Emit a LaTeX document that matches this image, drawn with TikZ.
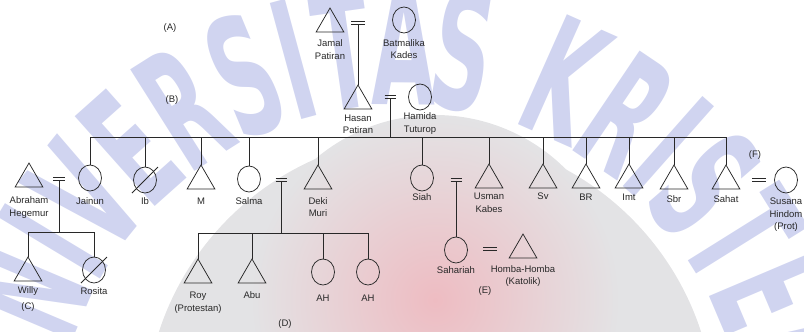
\documentclass[tikz,border=0pt]{standalone}
\usepackage{fontspec}
\setmainfont{Liberation Sans}
\newfontfamily\wmfont{DejaVu Sans}
\usepackage{tikz}
\usetikzlibrary{calc,positioning,shapes.geometric}

\definecolor{ink}{RGB}{40,40,40}
\definecolor{wmblue}{RGB}{208,212,240}
\definecolor{wmgray}{RGB}{227,227,229}
\definecolor{wmpink}{RGB}{238,188,194}

\tikzset{
  kin/.style={draw=ink,line width=0.75pt},
  male/.style={kin,regular polygon,regular polygon sides=3,minimum size=32pt,
    inner sep=0pt,outer sep=0pt,anchor=north},
  female/.style={kin,ellipse,minimum width=23pt,minimum height=26pt,
    inner sep=0pt,outer sep=0pt},
  who/.style={font=\fontsize{9.5}{12.5}\selectfont,text=ink,align=center,inner sep=0pt},
  wmletter/.style={font=\wmfont\bfseries\fontsize{165}{165}\selectfont,text=wmblue,inner sep=0pt}
}

\begin{document}
\begin{tikzpicture}[x=1pt,y=-1pt]
\useasboundingbox (0,0) rectangle (804,332);
% Watermark behind the chart: logo disc and lettering round it
\begin{scope}
  \clip (0,0) rectangle (804,332);
  \fill[wmgray] (430,420) circle (285);
  \shade[inner color=wmpink,outer color=wmgray] (435,300) circle (185);
  \begin{scope}[shift={(400,450)},yscale=-1]
    \foreach \ch/\a in {U/167.5,N/157,I/148.9,V/141.2,E/131.7,R/122.3,S/112.6,
                        I/105.2,T/98.1,A/89.5,S/81,K/66,R/56,I/48.5,S/41,
                        T/32,E/23,N/13}
      \node[wmletter,rotate=\a-90] (wm\a) at (\a:405) {\scalebox{0.5}[1]{\ch}};
  \end{scope}
\end{scope}

% People: (id/shape/x/y/label y/label)
\foreach \id/\kind/\x/\y/\ly/\lab in {%
  jamal/male/330/8/49.5/{Jamal\\Patiran},%
  batmalika/female/404/20/49/{Batmalika\\Kades},%
  hasan/male/358/85/124.5/{Hasan\\Patiran},%
  hamida/female/420/97/123.5/{Hamida\\Tuturop},%
  abraham/male/29/163/207.5/{Abraham\\Hegemur},%
  jainun/female/90/178/201/{Jainun},%
  ib/female/145/180/201/{Ib},%
  m/male/201/165/201/{M},%
  salma/female/249/179/201/{Salma},%
  deki/male/318/165/207/{Deki\\Muri},%
  siah/female/422/178/197/{Siah},%
  usman/male/489/164/203/{Usman\\Kabes},%
  sv/male/543/164/196/{Sv},%
  br/male/586/164/197/{BR},%
  imt/male/629/164/197/{Imt},%
  sbr/male/674/165/199/{Sbr},%
  sahat/male/726/165/199/{Sahat},%
  susana/female/786/180/215/{Susana\\Hindom\\(Prot)},%
  willy/male/28/257/291/{Willy},%
  rosita/female/94/270/291/{Rosita},%
  roy/male/198/259/302.5/{Roy\\(Protestan)},%
  abu/male/252/259/295/{Abu},%
  ah1/female/323/272/298/{AH},%
  ah2/female/368/272/298/{AH},%
  sahariah/female/456/250/270/{Sahariah},%
  homba/male/523/234/276/{Homba-Homba\\(Katolik)}}{%
  \node[\kind] (\id) at (\x,\y) {};
  \node[who] (\id-l) at (\x,\ly) {\lab};
}
% deceased
\foreach \c in {ib,rosita}
  \draw[kin] ($(\c.center)+(-13,13)$) -- ($(\c.center)+(13,-13)$);

% Marriage marks: (id/x/y/width)
\foreach \id/\x/\y/\w in {mj/358/23/14,mh/390/97/11,ma/59/179/12,ms/281/180/11,
                          mi/456/180/11,mw/490/249/14,mt/759/180/14}{%
  \coordinate (\id) at (\x,\y);
  \draw[kin] ($(\id)+(-\w/2,-1.6)$) -- ++(\w,0)
             ($(\id)+(-\w/2,1.6)$) -- ++(\w,0);
}

% Descent lines
\draw[kin] ($(mj)+(0,1.6)$) -- (hasan.north);
\coordinate (sib) at (390,137);
\draw[kin] ($(mh)+(0,1.6)$) -- (sib);
\draw[kin] (jainun.north |- sib) -- (sahat.north |- sib);
\foreach \c in {jainun,ib,m,salma,deki,siah,usman,sv,br,imt,sbr,sahat}
  \draw[kin] (\c.north |- sib) -- (\c.north);

\coordinate (ca) at (59,232);
\draw[kin] ($(ma)+(0,1.6)$) -- (ca);
\draw[kin] (willy.north |- ca) -- (rosita.north |- ca);
\foreach \c in {willy,rosita}
  \draw[kin] (\c.north |- ca) -- (\c.north);

\coordinate (cs) at (281,233);
\draw[kin] ($(ms)+(0,1.6)$) -- (cs);
\draw[kin] (roy.north |- cs) -- (ah2.north |- cs);
\foreach \c in {roy,abu,ah1,ah2}
  \draw[kin] (\c.north |- cs) -- (\c.north);

\draw[kin] ($(mi)+(0,1.6)$) -- (sahariah.north);

% Section tags
\foreach \t/\x/\y in {A/170/28,B/172/100,C/28/307,D/285/324,E/485/291,F/755/155}
  \node[who] (tag\t) at (\x,\y) {(\t)};
\end{tikzpicture}
\end{document}
